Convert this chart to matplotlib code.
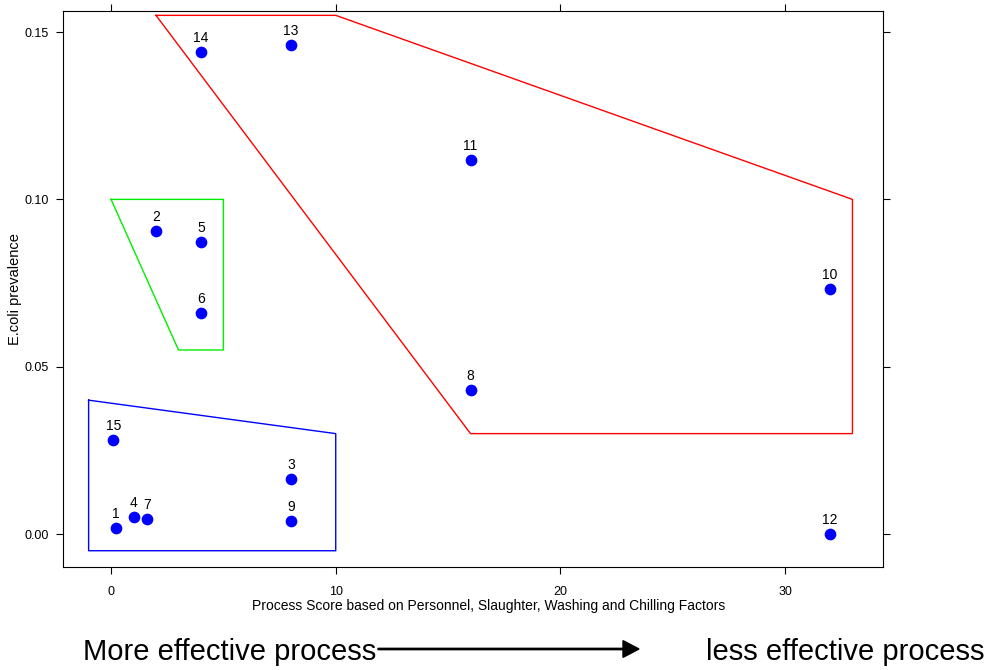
import matplotlib.pyplot as plt
from matplotlib.ticker import FormatStrFormatter

plt.rcParams['font.family'] = ['Liberation Sans', 'DejaVu Sans']

# plant data: process score vs E.coli prevalence
plant_ids = [1, 2, 3, 4, 5, 6, 7, 8, 9, 10, 11, 12, 13, 14, 15]
score = [0.2, 2, 8, 1, 4, 4, 1.6, 16, 8, 32, 16, 32, 8, 4, 0.1]
prevalence = [0.0018, 0.0906, 0.0164, 0.0051, 0.0873, 0.066, 0.0045,
              0.043, 0.0039, 0.0732, 0.1118, 0.0, 0.1461, 0.144, 0.028]

# grouping outlines
red_x = [2, 10, 33, 33, 16, 2]
red_y = [0.155, 0.155, 0.100, 0.030, 0.030, 0.155]
green_x = [0, 5, 5, 3, 0]
green_y = [0.100, 0.100, 0.055, 0.055, 0.100]
blue_x = [-1, 10, 10, -1, -1]
blue_y = [0.040, 0.030, -0.005, -0.005, 0.040]

fig = plt.figure(figsize=(9.89, 6.70), dpi=100)
ax = fig.add_axes([63/989, 1 - 567/670, 820/989, 556/670])

ax.plot(red_x, red_y, color='#ff0000', linewidth=1)
ax.plot(green_x, green_y, color='#00ee00', linewidth=1)
ax.plot(blue_x, blue_y, color='#0000ff', linewidth=1)

ax.scatter(score, prevalence, s=55, color='#0000ff', zorder=3)
for i, x, y in zip(plant_ids, score, prevalence):
    ax.annotate(str(i), (x, y), xytext=(0, 5), textcoords='offset points',
                ha='center', va='bottom', fontsize=10)

ax.set_xlim(-2.14, 34.36)
ax.set_ylim(-0.00986, 0.1563)
ax.set_xticks([0, 10, 20, 30])
ax.set_yticks([0, 0.05, 0.10, 0.15])
ax.yaxis.set_major_formatter(FormatStrFormatter('%.2f'))
ax.tick_params(direction='out', length=5, labelsize=9, top=True, right=True)
ax.tick_params(axis='x', pad=9)
ax.tick_params(axis='y', pad=5)
ax.set_xlabel('Process Score based on Personnel, Slaughter, Washing and Chilling Factors',
              fontsize=10, va='center')
ax.xaxis.set_label_coords(0.5195, -0.070)
ax.set_ylabel('E.coli prevalence', fontsize=10.5, labelpad=2)

fig.text(83/989, 1 - 652/670, 'More effective process', fontsize=21,
         ha='left', va='center')
fig.text(985/989, 1 - 652/670, 'less effective process', fontsize=21,
         ha='right', va='center')
fig.patches.append(plt.matplotlib.patches.FancyArrow(
    378/989, 1 - 649/670, 245/989, 0, width=0.002, head_width=0.025,
    head_length=16/989, length_includes_head=False, color='black',
    transform=fig.transFigure, figure=fig))

plt.savefig('out.png', dpi=100)
